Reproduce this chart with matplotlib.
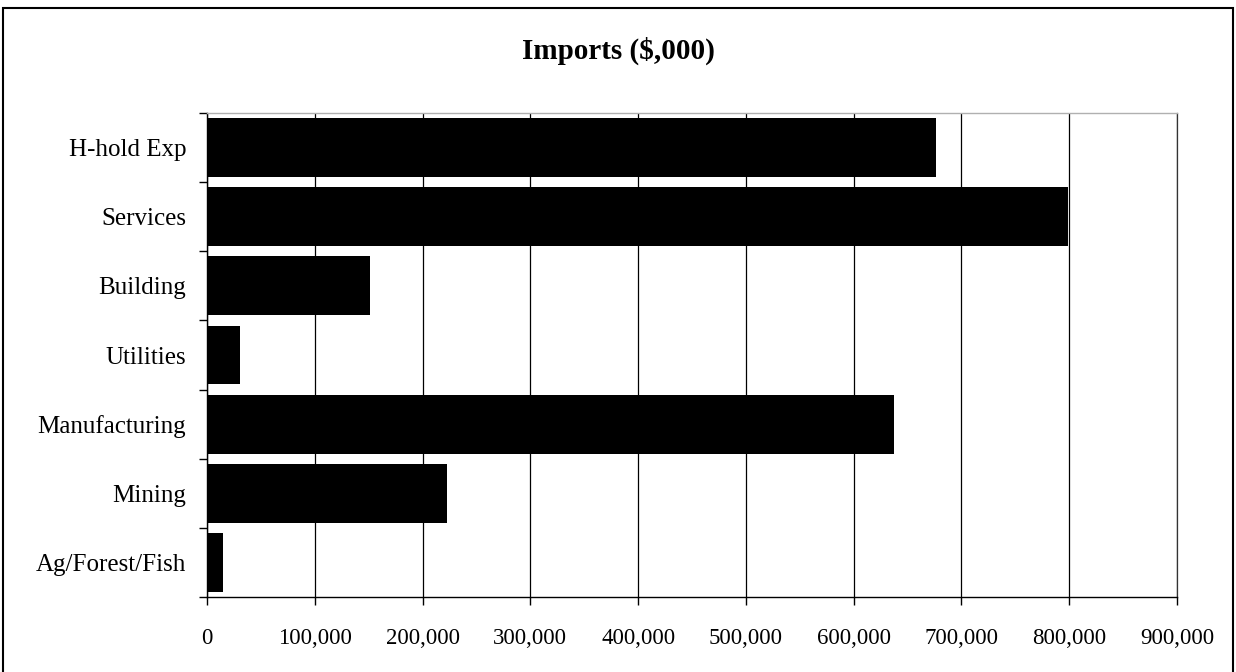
import matplotlib
matplotlib.use('Agg')
import matplotlib.pyplot as plt
from matplotlib.patches import Rectangle
from matplotlib.ticker import FuncFormatter

plt.rcParams['font.family'] = ['Liberation Serif', 'DejaVu Serif']

# Imports by sector ($,000), bottom to top as drawn
sectors = ['Ag/Forest/Fish', 'Mining', 'Manufacturing', 'Utilities',
           'Building', 'Services', 'H-hold Exp']
imports = [15000, 223000, 637000, 31000, 151000, 799000, 676000]
x_ticks = [0, 100000, 200000, 300000, 400000, 500000, 600000, 700000, 800000, 900000]

fig = plt.figure(figsize=(12.36, 6.72), dpi=100)
ax = fig.add_axes([0.1675, 0.1116, 0.7848, 0.7202])

ypos = list(range(len(sectors)))
ax.barh(ypos, imports, height=0.85, color='black', zorder=3)

ax.set_xlim(0, 900000)
ax.set_ylim(-0.5, len(sectors) - 0.5)

ax.set_xticks(x_ticks)
ax.xaxis.set_major_formatter(FuncFormatter(lambda v, p: f'{int(v):,}'))
ax.tick_params(axis='x', direction='out', length=6, width=1, pad=16,
               labelsize=16.5, color='black')
ax.grid(axis='x', color='black', linewidth=0.9, zorder=1)

# tick marks between categories, labels at category centres
ax.set_yticks([y - 0.5 for y in ypos] + [len(sectors) - 0.5])
ax.set_yticklabels([])
ax.set_yticks(ypos, minor=True)
ax.set_yticklabels(sectors, minor=True)
ax.tick_params(axis='y', which='major', direction='out', length=6, width=1, color='black')
ax.tick_params(axis='y', which='minor', length=0, pad=15, labelsize=18)

for side in ['left', 'bottom']:
    ax.spines[side].set_color('black')
    ax.spines[side].set_linewidth(1)
# last gridline sits on the plot edge
ax.spines['right'].set_color('#333333')
ax.spines['right'].set_linewidth(0.9)
ax.spines['top'].set_color('#b0b0b0')
ax.spines['top'].set_linewidth(1)

fig.text(0.5, 0.925, 'Imports ($,000)', ha='center', va='center',
         fontsize=21, fontweight='bold')

# chart border
fig.patches.append(Rectangle((3 / 1236, -0.01), 1230 / 1236, 1 - 8 / 672 + 0.01,
                             transform=fig.transFigure, fill=False,
                             edgecolor='black', linewidth=1.5))

fig.savefig('out.png', dpi=100)
